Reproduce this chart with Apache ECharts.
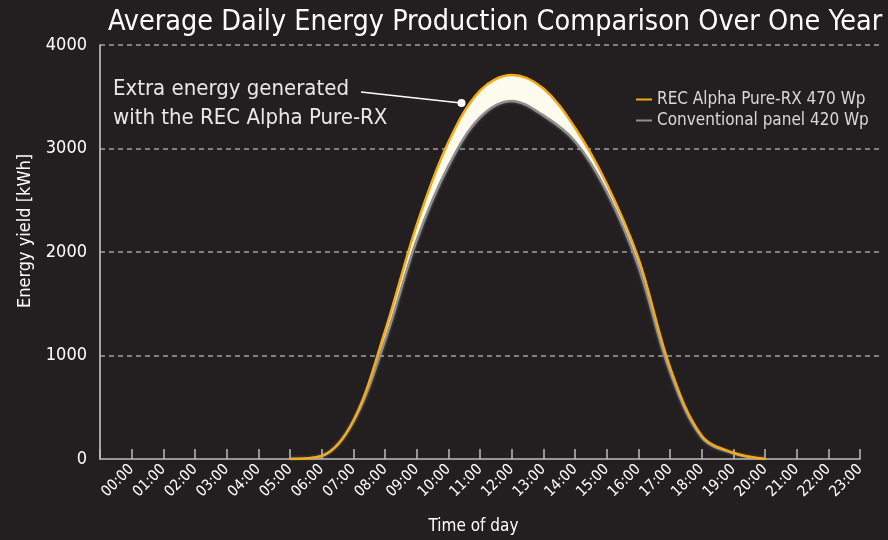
<!DOCTYPE html>
<html>
<head>
<meta charset="utf-8">
<script src="https://cdn.jsdelivr.net/npm/echarts@6/dist/echarts.min.js"></script>
<style>
  html, body { margin: 0; padding: 0; background: #231f20; }
  #chart { width: 888px; height: 540px; }
</style>
</head>
<body>
<div id="chart"></div>
<script>
// time of day labels and average yield (kWh) per hour
var hourLabels = ['00:00', '01:00', '02:00', '03:00', '04:00', '05:00', '06:00', '07:00',
    '08:00', '09:00', '10:00', '11:00', '12:00', '13:00', '14:00', '15:00',
    '16:00', '17:00', '18:00', '19:00', '20:00', '21:00', '22:00', '23:00'];
var recValues = [null, null, null, null, null, 0, 30, 370, 1235, 2260, 3060, 3560,
    3710, 3580, 3200, 2660, 1940, 885, 225, 60, 0, null, null, null];
var convValues = [null, null, null, null, null, 0, 28, 360, 1145, 2115, 2830, 3300,
    3460, 3320, 3070, 2585, 1865, 845, 210, 55, 0, null, null, null];
var yTicks = [0, 1000, 2000, 3000, 4000];

var FONT = 'DejaVu Sans Condensed, DejaVu Sans, sans-serif';
var SMOOTH = 0.35;

// leading empty category so the axis starts one step before 00:00
var categories = [''].concat(hourLabels);
function padded(vals) { return [null].concat(vals); }
var diffValues = recValues.map(function (v, i) {
    return v == null ? null : v - convValues[i];
});

var chart = echarts.init(document.getElementById('chart'));
chart.setOption({
    backgroundColor: '#231f20',
    animation: false,
    title: {
        text: 'Average Daily Energy Production Comparison Over One Year',
        left: 103,
        top: 3,
        textStyle: { color: '#ffffff', fontSize: 28.5, fontWeight: 'normal', fontFamily: FONT }
    },
    legend: {
        data: ['REC Alpha Pure-RX 470 Wp', 'Conventional panel 420 Wp'],
        orient: 'vertical',
        left: 631,
        top: 86,
        itemGap: 4,
        itemWidth: 16,
        itemHeight: 2,
        icon: 'rect',
        textStyle: { color: '#d9d9d9', fontSize: 17, fontFamily: FONT }
    },
    grid: [
        { left: 100, right: 28, top: 45, bottom: 81, outerBoundsMode: 'none' },
        { left: 100, right: 9, top: 45, bottom: 184.5, outerBoundsMode: 'none' }
    ],
    xAxis: [{
        type: 'category',
        gridIndex: 0,
        data: categories,
        boundaryGap: false,
        name: 'Time of day',
        nameLocation: 'middle',
        nameGap: 59,
        nameTextStyle: { color: '#ffffff', fontSize: 17, fontFamily: FONT, padding: [0, 13, 0, 0] },
        axisLine: { lineStyle: { color: '#bdbdbd', width: 1.5 } },
        axisTick: { inside: true, length: 10, lineStyle: { color: '#bdbdbd', width: 1.5 } },
        axisLabel: {
            color: '#ffffff',
            fontSize: 15,
            fontFamily: FONT,
            rotate: 45,
            margin: 8,
            interval: 0
        }
    }, {
        type: 'value',
        gridIndex: 1,
        min: 0,
        max: 1,
        show: false
    }],
    yAxis: [{
        type: 'value',
        gridIndex: 0,
        min: yTicks[0],
        max: yTicks[yTicks.length - 1],
        interval: 1000,
        name: 'Energy yield [kWh]',
        nameLocation: 'middle',
        nameGap: 66,
        nameTextStyle: { color: '#ffffff', fontSize: 18, fontFamily: FONT, padding: [0, 0, 0, 42] },
        axisLine: { show: true, lineStyle: { color: '#d0d0d0', width: 1.5 } },
        axisTick: { show: false },
        splitLine: { show: false },
        axisLabel: { color: '#ffffff', fontSize: 18, fontFamily: FONT, margin: 13,
            formatter: function (v) { return String(v); } }
    }, {
        // dashed guide lines that run past the end of the time axis
        type: 'value',
        gridIndex: 1,
        min: yTicks[1],
        max: yTicks[yTicks.length - 1],
        interval: 1000,
        axisLine: { show: false },
        axisTick: { show: false },
        axisLabel: { show: false },
        splitLine: {
            show: true,
            lineStyle: { color: '#a0a0a0', width: 1.5, type: [5, 4] }
        }
    }],
    series: [{
        name: 'base',
        type: 'line',
        stack: 'band',
        smooth: SMOOTH,
        symbol: 'none',
        silent: true,
        lineStyle: { opacity: 0 },
        data: padded(convValues)
    }, {
        name: 'extra',
        type: 'line',
        stack: 'band',
        smooth: SMOOTH,
        symbol: 'none',
        silent: true,
        lineStyle: { opacity: 0 },
        areaStyle: { color: '#fdfaee', opacity: 1 },
        data: padded(diffValues)
    }, {
        name: 'Conventional panel 420 Wp',
        type: 'line',
        smooth: SMOOTH,
        symbol: 'none',
        color: '#8f8f8f',
        lineStyle: { color: '#8f8f8f', width: 2.5, shadowColor: 'rgba(255,255,255,0.35)', shadowBlur: 3 },
        data: padded(convValues)
    }, {
        name: 'REC Alpha Pure-RX 470 Wp',
        type: 'line',
        smooth: SMOOTH,
        symbol: 'none',
        color: '#f4aa16',
        lineStyle: { color: '#f4aa16', width: 2.5 },
        data: padded(recValues)
    }],
    graphic: [{
        type: 'text',
        left: 113,
        top: 75,
        style: {
            text: 'Extra energy generated\nwith the REC Alpha Pure-RX',
            fill: '#e8e8e8',
            font: '22px ' + FONT,
            lineHeight: 29
        }
    }, {
        type: 'line',
        shape: { x1: 361, y1: 92, x2: 461, y2: 103 },
        style: { stroke: '#ffffff', lineWidth: 1.5 }
    }, {
        type: 'circle',
        shape: { cx: 461.5, cy: 103, r: 4 },
        style: { fill: '#ffffff' }
    }]
});
</script>
</body>
</html>
